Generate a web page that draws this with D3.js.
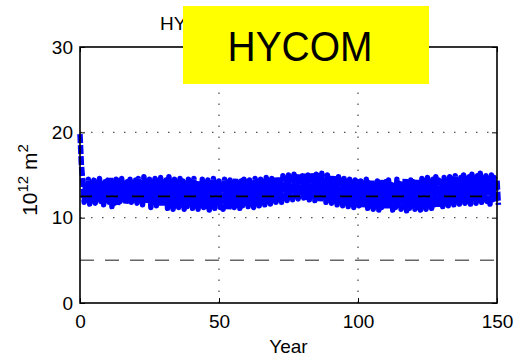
<!DOCTYPE html>
<html>
<head>
<meta charset="utf-8">
<script src="https://cdn.jsdelivr.net/npm/d3@7"></script>
<style>
  body { margin: 0; background: #fff; }
  svg { display: block; font-family: "Liberation Sans", Arial, sans-serif; }
</style>
</head>
<body>
<svg id="chart" width="514" height="358"></svg>
<script>
// annual upper / lower values of the blue curve (10^12 m^2), years 0..150
const annualMax = [
  19.8,
  14.3, 14.0, 14.5, 13.8, 14.4, 14.1, 14.6, 13.9, 14.2, 14.4,
  14.7, 14.0, 14.5, 14.3, 14.6, 13.8, 14.2, 14.5, 14.0, 14.4,
  14.6, 14.1, 14.8, 14.2, 14.5, 13.9, 14.6, 14.3, 14.7, 14.0,
  14.4, 14.8, 14.2, 14.5, 13.9, 14.6, 14.3, 14.0, 14.5, 14.2,
  14.6, 13.8, 14.3, 14.5, 14.0, 14.4, 14.1, 14.6, 13.9, 14.3,
  14.2, 14.5, 13.9, 14.4, 14.1, 14.6, 14.0, 14.3, 14.5, 14.2,
  14.4, 14.0, 14.6, 14.2, 14.5, 14.3, 14.7, 14.1, 14.6, 14.4,
  14.8, 14.5, 14.9, 14.6, 15.0, 14.7, 15.1, 14.8, 15.2, 14.9,
  15.2, 15.0, 15.3, 14.8, 15.1, 14.9, 15.2, 14.7, 15.0, 14.8,
  14.9, 14.5, 14.8, 14.3, 14.6, 14.2, 14.5, 14.0, 14.4, 14.2,
  14.3, 14.0, 14.5, 14.1, 14.4, 13.9, 14.3, 14.0, 14.5, 14.2,
  14.4, 13.9, 14.2, 14.5, 14.0, 14.3, 14.6, 14.1, 14.4, 14.2,
  14.5, 14.1, 14.6, 14.3, 14.7, 14.2, 14.5, 14.8, 14.4, 14.6,
  14.7, 14.3, 14.8, 14.5, 14.9, 14.4, 14.7, 15.0, 14.6, 14.8,
  15.1, 14.7, 14.9, 15.2, 14.6, 14.9, 14.5, 15.0, 14.7, 14.4
]
const annualMin = [
  16.2,
  11.8, 12.2, 11.6, 12.0, 11.7, 12.3, 11.9, 11.5, 12.1, 11.8,
  11.3, 11.7, 11.4, 11.9, 12.2, 11.6, 12.0, 11.8, 12.3, 11.7,
  11.9, 11.5, 12.1, 11.6, 11.2, 11.8, 11.4, 12.0, 11.3, 11.6,
  11.1, 11.5, 11.0, 11.4, 11.2, 11.7, 11.0, 11.3, 11.5, 11.1,
  11.4, 11.0, 11.6, 11.2, 11.3, 10.9, 11.5, 11.1, 11.4, 11.2,
  11.0, 11.3, 10.9, 11.5, 11.2, 11.6, 11.1, 11.4, 11.7, 11.3,
  11.6, 11.2, 11.8, 11.4, 11.7, 11.5, 11.9, 11.6, 12.0, 11.8,
  12.1, 11.8, 12.3, 12.0, 12.4, 12.1, 12.5, 12.2, 12.6, 12.3,
  12.4, 12.1, 12.5, 12.0, 12.3, 11.9, 12.2, 11.8, 12.1, 11.7,
  11.9, 11.5, 11.8, 11.4, 11.7, 11.3, 11.6, 11.2, 11.5, 11.4,
  11.2, 11.5, 11.1, 11.4, 11.0, 11.3, 10.9, 11.2, 11.4, 11.0,
  11.3, 10.9, 11.2, 11.5, 11.0, 11.3, 10.8, 11.1, 11.4, 11.0,
  11.2, 10.9, 11.3, 11.0, 11.4, 11.1, 11.5, 11.2, 11.6, 11.3,
  11.7, 11.4, 11.8, 11.5, 11.9, 11.6, 12.0, 11.7, 11.9, 11.6,
  12.0, 11.7, 12.1, 11.8, 12.2, 11.9, 11.6, 12.1, 11.8, 11.5
]
const xTicks = [0, 50, 100, 150]
const yTicks = [0, 10, 20, 30]
const refDark = 12.5   // black dashed reference
const refGray = 5      // grey dashed reference

const svg = d3.select('#chart')
const m = { left: 80, right: 497, top: 47, bottom: 303 }

const x = d3.scaleLinear().domain([0, 150]).range([m.left, m.right])
const y = d3.scaleLinear().domain([0, 30]).range([m.bottom, m.top])

// dotted grid
const grid = svg.append('g')
  .attr('stroke', '#555')
  .attr('stroke-width', 1.3)
  .attr('stroke-dasharray', '1.5,9.5')
grid.selectAll('line.gy')
  .data(yTicks.filter((d) => d > 0 && d < 30))
  .join('line')
  .attr('class', 'gy')
  .attr('x1', m.left).attr('x2', m.right)
  .attr('y1', (d) => y(d)).attr('y2', (d) => y(d))
grid.selectAll('line.gx')
  .data(xTicks.filter((d) => d > 0 && d < 150))
  .join('line')
  .attr('class', 'gx')
  .attr('y1', m.bottom).attr('y2', m.top)
  .attr('x1', (d) => x(d)).attr('x2', (d) => x(d))

// grey dashed line
svg.append('line')
  .attr('x1', m.left).attr('x2', m.right)
  .attr('y1', y(refGray)).attr('y2', y(refGray))
  .attr('stroke', '#666')
  .attr('stroke-width', 1.5)
  .attr('stroke-dasharray', '14,11')

// blue curve: alternate between upper and lower values each year
const pts = []
annualMax.forEach((v, i) => {
  pts.push([i, v])
  pts.push([i + 0.5, annualMin[i]])
})
const line = d3.line()
  .x((d) => x(d[0]))
  .y((d) => y(d[1]))
svg.append('path')
  .attr('d', line(pts))
  .attr('fill', 'none')
  .attr('stroke', '#0000ff')
  .attr('stroke-width', 5.5)
  .attr('stroke-linejoin', 'round')
  .attr('stroke-dasharray', '9,2')

// black dashed line on top
svg.append('line')
  .attr('x1', m.left).attr('x2', m.right)
  .attr('y1', y(refDark)).attr('y2', y(refDark))
  .attr('stroke', '#000')
  .attr('stroke-width', 1.8)
  .attr('stroke-dasharray', '12,14')

// axes with inward ticks
function styleAxis(g) {
  g.selectAll('.domain').remove()
  g.selectAll('.tick line').attr('stroke', '#000')
  g.selectAll('.tick text').attr('font-size', 19).attr('fill', '#000')
    .attr('font-family', '"Liberation Sans", Arial, sans-serif')
}
svg.append('g')
  .attr('transform', `translate(${m.left},0)`)
  .call(d3.axisLeft(y).tickValues(yTicks).tickSizeInner(-5).tickSizeOuter(0).tickPadding(7))
  .call(styleAxis)
svg.append('g')
  .attr('transform', `translate(${m.right},0)`)
  .call(d3.axisRight(y).tickValues(yTicks).tickSizeInner(-5).tickSizeOuter(0).tickFormat(''))
  .call(styleAxis)
svg.append('g')
  .attr('transform', `translate(0,${m.bottom})`)
  .call(d3.axisBottom(x).tickValues(xTicks).tickSizeInner(-5).tickSizeOuter(0).tickPadding(12))
  .call(styleAxis)
svg.append('g')
  .attr('transform', `translate(0,${m.top})`)
  .call(d3.axisTop(x).tickValues(xTicks).tickSizeInner(-5).tickSizeOuter(0).tickFormat(''))
  .call(styleAxis)

// frame
svg.append('rect')
  .attr('x', m.left).attr('y', m.top)
  .attr('width', m.right - m.left).attr('height', m.bottom - m.top)
  .attr('fill', 'none')
  .attr('stroke', '#000')
  .attr('stroke-width', 1.6)

// labels
svg.append('text')
  .attr('x', (m.left + m.right) / 2).attr('y', 353)
  .attr('text-anchor', 'middle')
  .attr('font-size', 19)
  .text('Year')

const yl = svg.append('text')
  .attr('transform', `translate(37,180) rotate(-90)`)
  .attr('text-anchor', 'middle')
  .attr('font-size', 21)
yl.append('tspan').text('10')
yl.append('tspan').attr('font-size', 15).attr('dy', -9).text('12')
yl.append('tspan').attr('dy', 9).text(' m')
yl.append('tspan').attr('font-size', 15).attr('dy', -9).text('2')

// original title, mostly hidden under the yellow banner
svg.append('text')
  .attr('x', 160).attr('y', 30)
  .attr('font-size', 19)
  .text('HYCOM')

// yellow banner
svg.append('rect')
  .attr('x', 183).attr('y', 6)
  .attr('width', 246).attr('height', 78)
  .attr('fill', '#ffff00')
svg.append('text')
  .attr('x', 300).attr('y', 61)
  .attr('text-anchor', 'middle')
  .attr('font-size', 42)
  .attr('textLength', 145)
  .attr('lengthAdjust', 'spacingAndGlyphs')
  .text('HYCOM')
</script>
</body>
</html>
